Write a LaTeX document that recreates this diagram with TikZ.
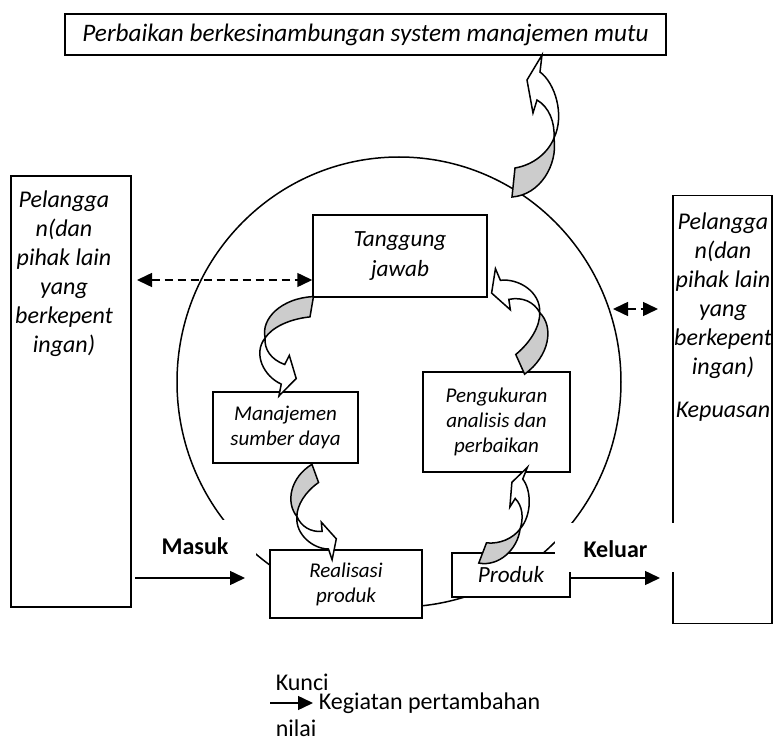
\documentclass[tikz,border=0pt]{standalone}
\usepackage{fontspec}
\setmainfont{Carlito}
\usetikzlibrary{arrows.meta}

\begin{document}
\begin{tikzpicture}[x=0.5pt, y=-0.5pt, line width=0.75pt,
    box/.style={draw, fill=white, inner sep=0pt, align=center},
    note/.style={inner sep=0pt, align=center},
    it13/.style={font=\fontsize{12.6}{15}\selectfont\itshape},
    it12/.style={font=\fontsize{12}{14.5}\selectfont\itshape},
    it11/.style={font=\fontsize{11.6}{15}\selectfont\itshape},
    it10/.style={font=\fontsize{10.5}{12.5}\selectfont\itshape},
    bf12/.style={font=\fontsize{12}{14.5}\selectfont\bfseries},
    rm12/.style={font=\fontsize{12}{14.5}\selectfont},
    flow/.style={-{Triangle[length=7.5pt,width=7pt]}},
    link/.style={{Triangle[length=7.5pt,width=7pt]}-{Triangle[length=7.5pt,width=7pt]}, dash pattern=on 4pt off 2.5pt},
    curvarrow/.pic={
        \draw[fill=white] (19,13) .. controls (20,-3) and (14,-18) .. (2,-25)
            -- (-2,-12) -- (-8,-45) -- (7,-70) -- (5,-53)
            .. controls (20,-42) and (30,-10) .. (19,13) -- cycle;
        \draw[fill=gray!40] (-23,72) -- (-20,43) .. controls (-2,40) and (13,28) .. (19,13)
            .. controls (23,40) and (5,70) .. (-23,72) -- cycle;
    }]
    \useasboundingbox (0,0) rectangle (773,749);

    % the cycle
    \draw (399,382) ellipse [x radius=111pt, y radius=112.5pt];

    \node[box, it13, minimum width=300.5pt, minimum height=20.5pt] at (365.5,34.5) (top) {Perbaikan berkesinambungan system manajemen mutu};
    \node[box, minimum width=60pt, minimum height=215.5pt] at (71,391.5) (pl) {};
    \node[box, minimum width=49.5pt, minimum height=214pt] at (722.5,409.5) (pr2) {};
    \node[note, it12] at (64,274) (pltxt) {Pelangga\\n(dan\\pihak lain\\yang\\berkepent\\ingan)};
    \node[note, it12] at (723,317) (prtxt) {Pelangga\\n(dan\\pihak lain\\yang\\berkepent\\ingan)\\[7.25pt]Kepuasan};

    \node[box, it11, minimum width=87pt, minimum height=41pt] at (400,256) (tj) {Tanggung\\jawab};
    \node[box, it10, minimum width=72.5pt, minimum height=35.5pt] at (285.5,427.5) (mj) {Manajemen\\sumber daya};
    \node[box, it10, minimum width=73.5pt, minimum height=50pt] at (496.5,422) (pg) {Pengukuran\\analisis dan\\perbaikan};
    \node[box, it10, minimum width=76pt, minimum height=34pt] at (346,584) (rl) {Realisasi\\produk};
    \node[box, it11, minimum width=59pt, minimum height=22pt] at (511,575) (pr) {Produk};

    % curved arrows
    \pic at (535,125) {curvarrow};
    \pic[rotate=180, xscale=1.15, yscale=0.7] at (287,347) {curvarrow};
    \pic[rotate=33, xscale=1.1, yscale=0.735] at (517,316) {curvarrow};
    \pic[rotate=208, xscale=0.9, yscale=0.66] at (316,516) {curvarrow};
    \pic[rotate=-15, scale=0.74] at (509,516) {curvarrow};

    \node[note, bf12, fill=white, minimum width=60.5pt, text height=17.4pt, text depth=0.65pt, anchor=base] at (195,554.7) (masuk) {Masuk};
    \node[note, bf12, fill=white, minimum width=60.5pt, text height=17.4pt, text depth=7.2pt, anchor=base] at (615.5,557.7) (keluar) {Keluar};

    \coordinate (d1) at (137,280);
    \coordinate (d2) at (613,309);
    \coordinate (d3) at (658,309);
    \coordinate (m1) at (135,578);
    \coordinate (m2) at (245,578);
    \coordinate (k2) at (660,578);
    \draw[link] (d1) -- (tj.west |- d1);
    \draw[link] (d2) -- (d3);
    \draw[flow] (m1) -- (m2);
    \draw[flow] (pr.east |- k2) -- (k2);

    % key
    \node[note, rm12, anchor=west] at (275,682) (kunci) {Kunci};
    \node[note, rm12, anchor=west] at (318,703) (keg) {Kegiatan pertambahan};
    \node[note, rm12, anchor=west] at (275,728) (nilai) {nilai};
    \coordinate (l1) at (270,703);
    \draw[flow] (l1) -- ([xshift=-2.5pt]keg.west);
\end{tikzpicture}
\end{document}
